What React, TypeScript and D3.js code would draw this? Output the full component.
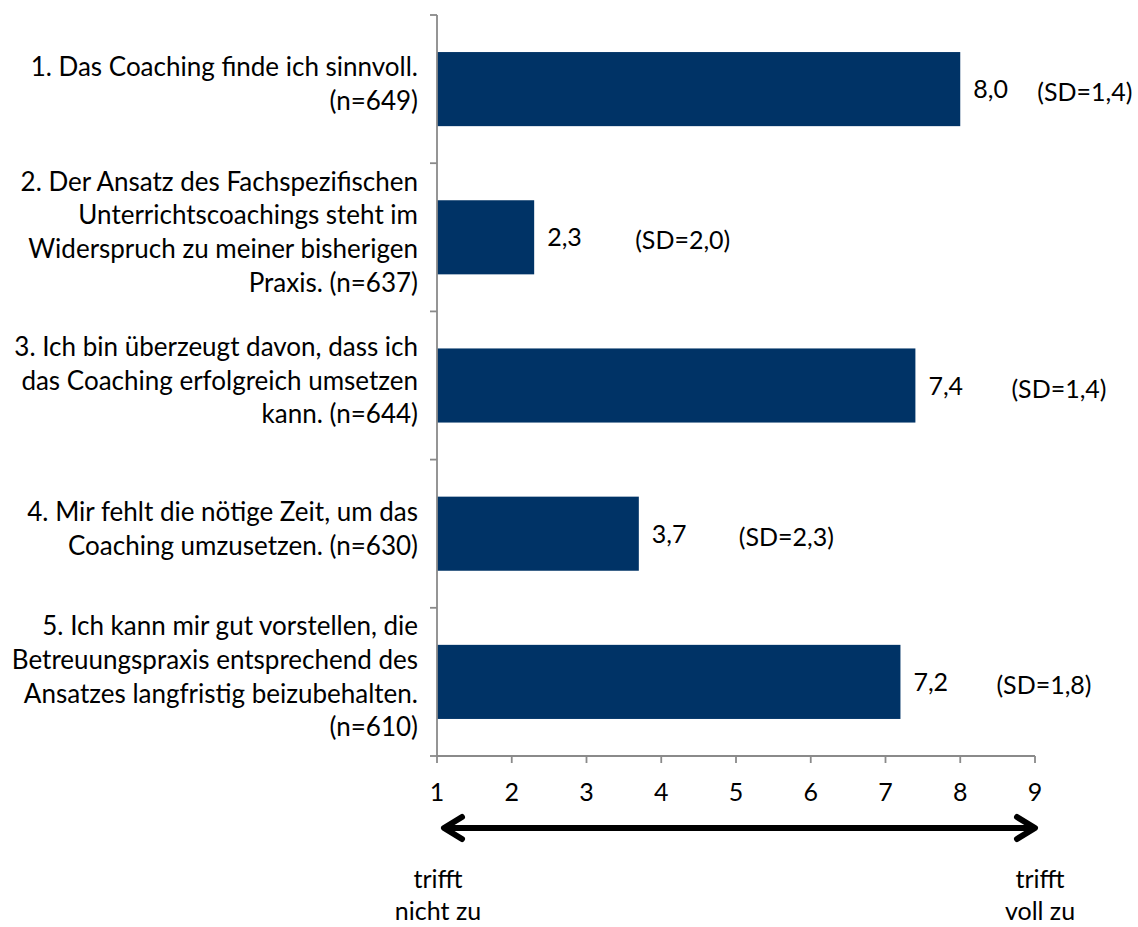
import React from 'react';
import * as d3 from 'd3';

// item texts, one line per entry
const itemLabels: string[][] = [
  ['1. Das Coaching finde ich sinnvoll.', '(n=649)'],
  ['2. Der Ansatz des Fachspezifischen', 'Unterrichtscoachings steht im', 'Widerspruch zu meiner bisherigen', 'Praxis. (n=637)'],
  ['3. Ich bin überzeugt davon, dass ich', 'das Coaching erfolgreich umsetzen', 'kann. (n=644)'],
  ['4. Mir fehlt die nötige Zeit, um das', 'Coaching umzusetzen. (n=630)'],
  ['5. Ich kann mir gut vorstellen, die', 'Betreuungspraxis entsprechend des', 'Ansatzes langfristig beizubehalten.', '(n=610)'],
];
const means = [8.0, 2.3, 7.4, 3.7, 7.2];
const sds = [1.4, 2.0, 1.4, 2.3, 1.8];
const xTicks = [1, 2, 3, 4, 5, 6, 7, 8, 9];
const leftEnd = ['trifft', 'nicht zu'];
const rightEnd = ['trifft', 'voll zu'];

const W = 1138;
const H = 927;
const FONT = 'Lato, "Open Sans", sans-serif';
const fmt = (v: number) => v.toFixed(1).replace('.', ',');

export default function App() {
  const left = 437;
  const right = 1035;
  const top = 15;
  const bottom = 756;

  const x = d3.scaleLinear().domain([1, 9]).range([left, right]);
  const y = d3.scaleBand<number>()
    .domain(d3.range(means.length))
    .range([top, bottom])
    .paddingInner(0.5)
    .paddingOuter(0.25);
  const band = (bottom - top) / means.length;
  // spacing between the mean and the SD label (the source used blank padding)
  const sdGap = [64, 88, 83, 87, 83];
  const lineH = 33.7;
  const arrowY = 828;
  const axisColor = '#8a8a8a';

  return (
    <svg width={W} height={H} style={{ position: 'absolute', left: 0, top: 0 }} fontFamily={FONT}>
      {/* bars */}
      {means.map((m, i) => (
        <rect key={i} x={x(1)} y={y(i)} width={x(m) - x(1)} height={y.bandwidth()} fill="#003366" />
      ))}

      {/* y axis */}
      <line x1={left} x2={left} y1={top} y2={bottom} stroke={axisColor} strokeWidth={1.8} />
      {d3.range(means.length + 1).map((i) => (
        <line key={i} x1={left - 7} x2={left} y1={top + i * band} y2={top + i * band} stroke={axisColor} strokeWidth={1.8} />
      ))}

      {/* x axis */}
      <line x1={left} x2={right} y1={bottom} y2={bottom} stroke={axisColor} strokeWidth={1.8} />
      {xTicks.map((t) => (
        <g key={t}>
          <line x1={x(t)} x2={x(t)} y1={bottom} y2={bottom + 7} stroke={axisColor} strokeWidth={1.8} />
          <text x={x(t)} y={801} textAnchor="middle" fontSize={25} fill="#000">{t}</text>
        </g>
      ))}

      {/* category labels */}
      {itemLabels.map((lines, i) => {
        const cy = y(i)! + y.bandwidth() / 2;
        const startY = cy - 5 - ((lines.length - 1) * lineH) / 2;
        return (
          <text key={i} textAnchor="end" fontSize={26} fill="#000">
            {lines.map((ln, j) => (
              <tspan key={j} x={418} y={startY + j * lineH + 9}>{ln}</tspan>
            ))}
          </text>
        );
      })}

      {/* value labels */}
      {means.map((m, i) => {
        const cy = y(i)! + y.bandwidth() / 2;
        const vx = x(m) + 13;
        return (
          <g key={i} fontSize={25} fill="#000">
            <text x={vx} y={cy + 9}>{fmt(m)}</text>
            <text x={vx + sdGap[i]} y={cy + 12}>{`(SD=${fmt(sds[i])})`}</text>
          </g>
        );
      })}

      {/* double arrow */}
      <line x1={442 + 4} x2={1037 - 4} y1={arrowY} y2={arrowY} stroke="#000" strokeWidth={6} />
      <polyline points={`${442 + 20},${arrowY - 11} ${442 + 2},${arrowY} ${442 + 20},${arrowY + 11}`} fill="none" stroke="#000" strokeWidth={6} strokeLinecap="round" strokeLinejoin="round" />
      <polyline points={`${1037 - 20},${arrowY - 11} ${1037 - 2},${arrowY} ${1037 - 20},${arrowY + 11}`} fill="none" stroke="#000" strokeWidth={6} strokeLinecap="round" strokeLinejoin="round" />

      {/* scale ends */}
      <text textAnchor="middle" fontSize={25} fill="#000">
        {leftEnd.map((ln, j) => (
          <tspan key={j} x={438} y={888 + j * 32}>{ln}</tspan>
        ))}
      </text>
      <text textAnchor="middle" fontSize={25} fill="#000">
        {rightEnd.map((ln, j) => (
          <tspan key={j} x={1040} y={888 + j * 32}>{ln}</tspan>
        ))}
      </text>
    </svg>
  );
}
